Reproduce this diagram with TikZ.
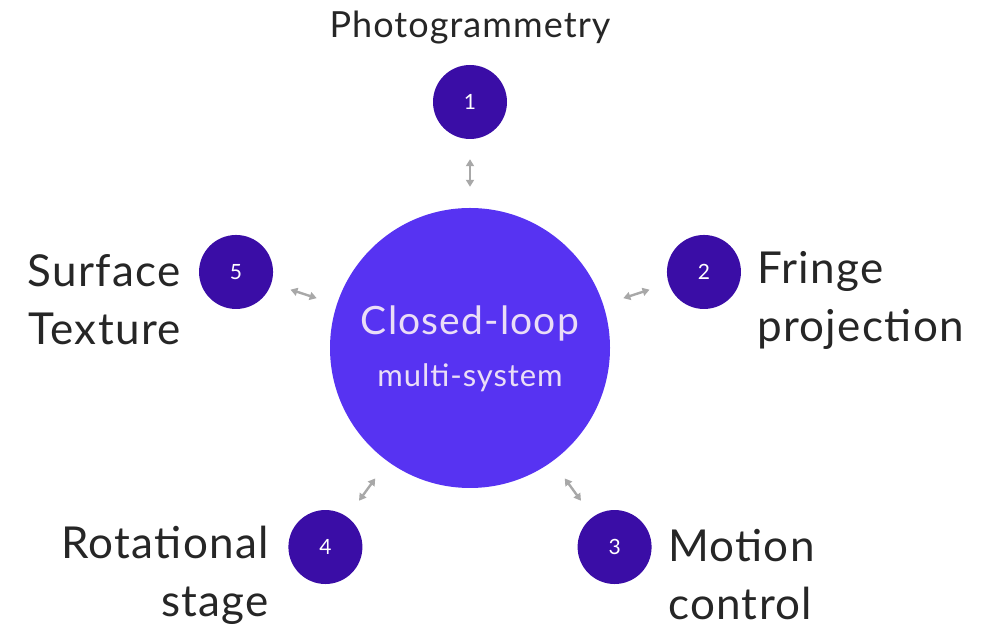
\documentclass[tikz,border=0pt]{standalone}
\usepackage{fontspec}
\setmainfont[LetterSpace=3]{Lato}
\usetikzlibrary{arrows.meta,calc}
\definecolor{hubblue}{HTML}{5733F2}
\definecolor{satpurple}{HTML}{3A0DA6}
\definecolor{hubtext}{HTML}{EADDF7}
\definecolor{linkgray}{HTML}{A8A8A8}
\tikzset{
  hub/.style={circle, fill=hubblue, minimum size=280pt, inner sep=0pt},
  sat/.style={circle, fill=satpurple, minimum size=74pt, inner sep=0pt,
    text=white, font=\fontsize{21}{21}\selectfont},
  biglabel/.style={font=\fontsize{44}{58}\selectfont, text=black!85, inner sep=0pt},
  link/.style={draw=linkgray, line width=2.4pt,
    {Triangle[length=7pt,width=8pt]}-{Triangle[length=7pt,width=8pt]},
    shorten <=21pt, shorten >=20pt}
}
\begin{document}
\begin{tikzpicture}[x=1pt,y=1pt]
\useasboundingbox (0,0) rectangle (983,631);
\coordinate (ctr) at (470,283);
\node[hub] (hub) at (ctr) {};
\node[text=hubtext, font=\fontsize{39}{39}\selectfont] (t1) at (470,308) {Closed-loop};
\node[text=hubtext, font=\fontsize{31}{31}\selectfont] (t2) at (470,253) {multi-system};

\node[sat] (n1) at ($(ctr)+(90:246)$) {1};
\node[sat] (n2) at ($(ctr)+(18:246)$) {2};
\node[sat] (n3) at ($(ctr)+(-54:246)$) {3};
\node[sat] (n4) at ($(ctr)+(-126:246)$) {4};
\node[sat] (n5) at ($(ctr)+(162:246)$) {5};

\foreach \n in {1,...,5} \draw[link] (hub) -- (n\n);

\node[font=\fontsize{36}{36}\selectfont, text=black!85] (l1) at (470,603) {Photogrammetry};
\node[biglabel, align=left, anchor=west] (l2) at (757,331) {Fringe\\projection};
\node[biglabel, align=left, anchor=west] (l3) at (668,56) {Motion\\control};
\node[biglabel, align=right, anchor=east] (l4) at (269,56) {Rotational\\stage};
\node[biglabel, align=right, anchor=east] (l5) at (181,331) {Surface\\Texture};
\end{tikzpicture}
\end{document}
